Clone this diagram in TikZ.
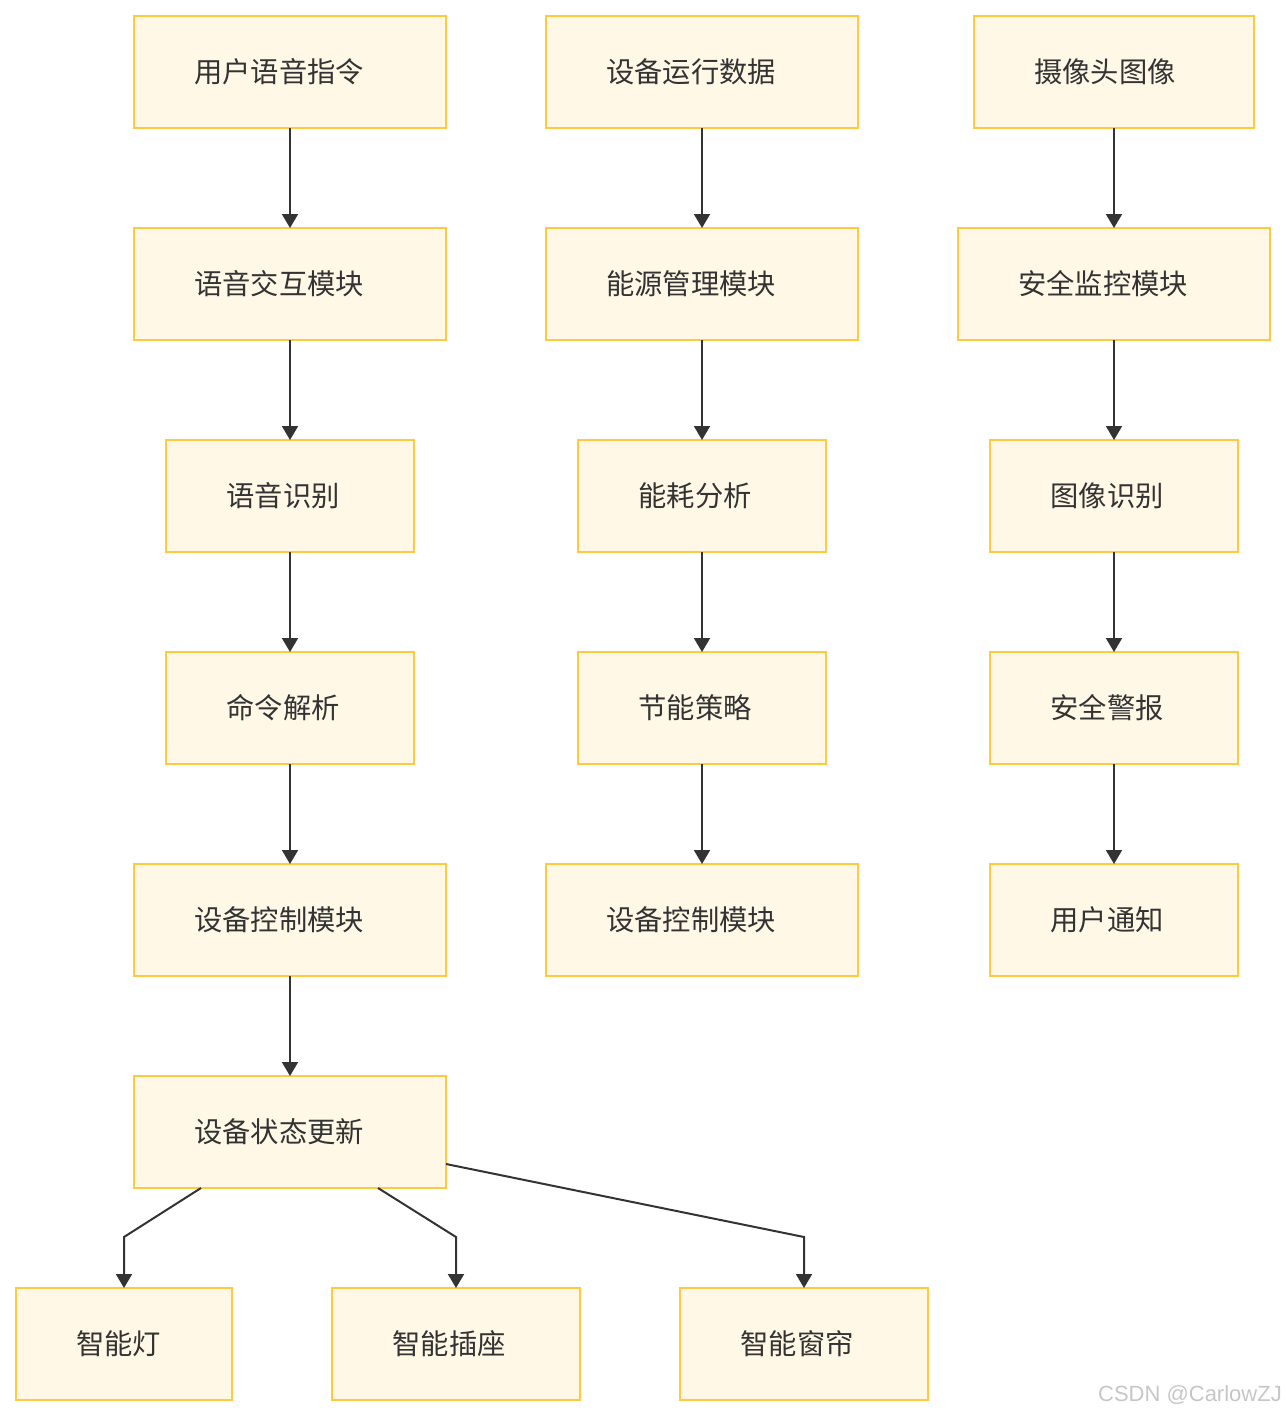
\documentclass[tikz,border=0pt]{standalone}
\usepackage{fontspec}
\setmainfont{Noto Sans CJK SC}
\newfontfamily\wmfont{Liberation Sans}
\usetikzlibrary{arrows.meta}
\definecolor{boxfill}{HTML}{FFF8E6}
\definecolor{boxline}{HTML}{FFC940}
\definecolor{arrcol}{HTML}{333333}
\begin{document}
\begin{tikzpicture}[x=1pt,y=-1pt,
  box/.style={draw=boxline,fill=boxfill,line width=2pt,minimum height=112pt,
    inner sep=0pt,outer sep=0pt,text=arrcol,font=\fontsize{28.3}{32}\selectfont},
  wA/.style={minimum width=312pt},
  wB/.style={minimum width=248pt},
  wC/.style={minimum width=280pt},
  wD/.style={minimum width=216pt},
  sh/.style={execute at begin node={\kern-#1pt}},
  arr/.style={draw=arrcol,line width=2pt,-{Triangle[width=16pt,length=14pt]}}]
\useasboundingbox (0,0) rectangle (1286,1416);
% column 1
\node[box,wA,sh=22] (c1a) at (290,72) {用户语音指令};
\node[box,wA,sh=22] (c1b) at (290,284) {语音交互模块};
\node[box,wB,sh=14] (c1c) at (290,496) {语音识别};
\node[box,wB,sh=14] (c1d) at (290,708) {命令解析};
\node[box,wA,sh=22] (c1e) at (290,920) {设备控制模块};
\node[box,wA,sh=22] (upd) at (290,1132) {设备状态更新};
% column 2
\node[box,wA,sh=22] (c2a) at (702,72) {设备运行数据};
\node[box,wA,sh=22] (c2b) at (702,284) {能源管理模块};
\node[box,wB,sh=14] (c2c) at (702,496) {能耗分析};
\node[box,wB,sh=14] (c2d) at (702,708) {节能策略};
\node[box,wA,sh=22] (c2e) at (702,920) {设备控制模块};
% column 3
\node[box,wC,sh=18] (c3a) at (1114,72) {摄像头图像};
\node[box,wA,sh=22] (c3b) at (1114,284) {安全监控模块};
\node[box,wB,sh=14] (c3c) at (1114,496) {图像识别};
\node[box,wB,sh=14] (c3d) at (1114,708) {安全警报};
\node[box,wB,sh=14] (c3e) at (1114,920) {用户通知};
% bottom
\node[box,wD,sh=11] (lamp) at (124,1344) {智能灯};
\node[box,wB,sh=14] (plug) at (456,1344) {智能插座};
\node[box,wB,sh=14] (curt) at (804,1344) {智能窗帘};
% arrows
\draw[arr] (c1a) -- (c1b);
\draw[arr] (c1b) -- (c1c);
\draw[arr] (c1c) -- (c1d);
\draw[arr] (c1d) -- (c1e);
\draw[arr] (c1e) -- (upd);
\draw[arr] (c2a) -- (c2b);
\draw[arr] (c2b) -- (c2c);
\draw[arr] (c2c) -- (c2d);
\draw[arr] (c2d) -- (c2e);
\draw[arr] (c3a) -- (c3b);
\draw[arr] (c3b) -- (c3c);
\draw[arr] (c3c) -- (c3d);
\draw[arr] (c3d) -- (c3e);
\coordinate (k1) at (124,1237);
\coordinate (k2) at (456,1237);
\coordinate (k3) at (804,1237);
\draw[arr] ([xshift=67pt]upd.south west) -- (k1) -- (lamp);
\draw[arr] ([xshift=244pt]upd.south west) -- (k2) -- (plug);
\draw[arr] ([yshift=-32pt]upd.east) -- (k3) -- (curt);
% watermark
\node[anchor=east,inner sep=0pt,text=gray!45,font=\wmfont\fontsize{22}{26}\selectfont] (wm) at (1282,1395) {CSDN @CarlowZJ};
\end{tikzpicture}
\end{document}
